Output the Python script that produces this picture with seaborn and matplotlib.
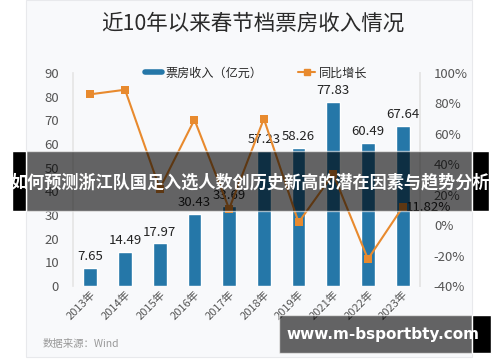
"""Spring Festival box office revenue with year-on-year growth."""

import matplotlib.pyplot as plt
import pandas as pd
import seaborn as sns
from matplotlib.lines import Line2D
from matplotlib.patches import Rectangle

YEARS = ["2013年", "2014年", "2015年", "2016年", "2017年",
         "2018年", "2019年", "2021年", "2022年", "2023年"]
REVENUE = [7.65, 14.49, 17.97, 30.43, 33.69, 57.23, 58.26, 77.83, 60.49, 67.64]
GROWTH = [86, 89, 24, 69.3, 10.7, 69.9, 1.8, 33.6, -22.3, 11.82]

LEFT_TICKS = [0, 10, 20, 30, 40, 50, 60, 70, 80, 90]
RIGHT_TICKS = [-40, -20, 0, 20, 40, 60, 80, 100]

BLUE = "#2577a8"
ORANGE = "#e88a2e"
CJK = ["Noto Sans CJK SC", "DejaVu Sans"]

sns.set_theme(style="white")
plt.rcParams["font.family"] = CJK

df = pd.DataFrame({"year": YEARS, "revenue": REVENUE, "growth": GROWTH})

W, H = 500, 362
fig = plt.figure(figsize=(W / 100, H / 100), dpi=100)
fig.patch.set_facecolor("white")


def fig_rect(x0, x1, y0, y1, **kw):
    """Rectangle given in pixels from the top-left corner."""
    fig.patches.append(Rectangle((x0 / W, 1 - y1 / H), (x1 - x0) / W, (y1 - y0) / H,
                                 transform=fig.transFigure, **kw))


# light card behind the chart
fig_rect(26, 472, 0, 357, facecolor="#f8f9fb", edgecolor="#e8e9ec", lw=0.8, zorder=-5)

ax = fig.add_axes([73 / W, 1 - 286 / H, (420 - 73) / W, (286 - 73) / H])
ax.set_facecolor("none")
sns.barplot(data=df, x="year", y="revenue", color=BLUE, saturation=1,
            width=0.4, ax=ax, zorder=2)
ax.set_ylim(0, 90)
ax.set_xlim(-0.5, len(YEARS) - 0.5)
ax.set_yticks(LEFT_TICKS)
ax.tick_params(axis="y", labelsize=9.5, colors="#555555", length=0, pad=10)
ax.tick_params(axis="x", labelsize=8, colors="#555555", length=0, pad=2)
plt.setp(ax.get_xticklabels(), rotation=45, ha="right", rotation_mode="anchor")
ax.set_xlabel("")
ax.set_ylabel("")
for side in ["top", "bottom"]:
    ax.spines[side].set_visible(False)
ax.spines["left"].set_color("#e6e6e6")
ax.spines["right"].set_color("#e6e6e6")
for i, v in enumerate(REVENUE):
    ax.text(i, v + 2, f"{v:.2f}", ha="center", va="bottom", fontsize=9.5,
            color="#222222", zorder=5)

ax2 = ax.twinx()
sns.lineplot(data=df, x="year", y="growth", color=ORANGE, lw=1.5,
             marker="s", markersize=6, markeredgewidth=0, sort=False,
             ax=ax2, zorder=3)
ax2.set_ylim(-40, 100)
ax2.set_yticks(RIGHT_TICKS)
ax2.set_yticklabels([f"{t}%" for t in RIGHT_TICKS])
ax2.tick_params(axis="y", labelsize=9.5, colors="#555555", length=0, pad=10)
ax2.set_ylabel("")
for side in ["top", "bottom", "left"]:
    ax2.spines[side].set_visible(False)
ax2.spines["right"].set_color("#e6e6e6")
ax2.text(len(YEARS) - 1 + 0.08, GROWTH[-1], f"{GROWTH[-1]:.2f}%",
         ha="left", va="center", fontsize=9.5, color="#222222")

handles = [Line2D([], [], color=BLUE, lw=4),
           Line2D([], [], color=ORANGE, lw=1.5, marker="s", markersize=5)]
fig.legend(handles, ["票房收入（亿元）", "同比增长"], loc="center",
           bbox_to_anchor=(256 / W, 1 - 73 / H), ncol=2, frameon=False,
           fontsize=8.7, handlelength=1.4, handletextpad=0.3, columnspacing=3.0)

fig.text(253 / W, 1 - 24 / H, "近10年以来春节档票房收入情况", ha="center",
         va="center", fontsize=15.5, color="#2a2a2a")
fig.text(43 / W, 1 - 344 / H, "数据来源：Wind", ha="left", va="center",
         fontsize=7.5, color="#999999")

# overlay banner and watermark
fig_rect(26, 472, 151, 211, facecolor="black", alpha=0.6, zorder=10)
fig_rect(279, 472, 315, 353, facecolor="black", alpha=0.6, zorder=10)
fig_rect(12, 26, 151, 211, facecolor="black", zorder=10)
fig_rect(472, 489, 151, 211, facecolor="black", zorder=10)
fig_rect(472, 491, 315, 353, facecolor="black", zorder=10)

fig.text(250 / W, 1 - 182 / H, "如何预测浙江队国足入选人数创历史新高的潜在因素与趋势分析",
         ha="center", va="center", fontsize=12.3, fontweight="bold",
         color="white", zorder=11)
fig.text(383 / W, 1 - 334 / H, "www.m-bsportbty.com", ha="center", va="center",
         fontsize=11, fontweight="bold", color="white", zorder=11,
         family=["DejaVu Sans"])

fig.savefig("out.png", dpi=100)
